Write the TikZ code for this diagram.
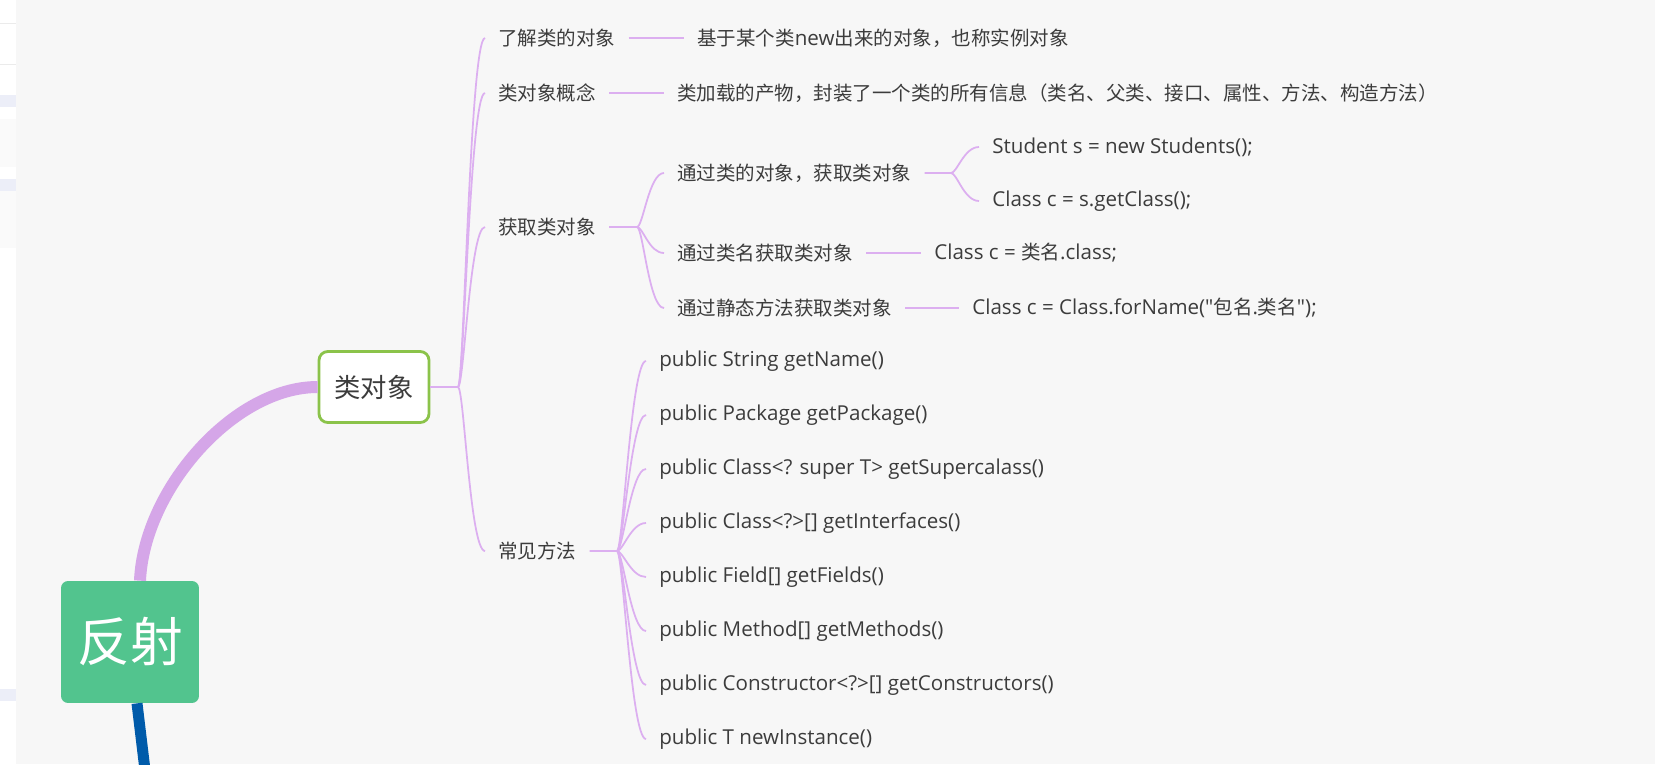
\documentclass[tikz,border=0pt]{standalone}
\usepackage{fontspec}
\setmainfont{Noto Sans CJK SC}
\newfontfamily\latfont{Open Sans}
\usepackage{tikz}
\usetikzlibrary{positioning, calc}
\definecolor{bggray}{RGB}{247,247,247}
\definecolor{txtgray}{RGB}{60,60,60}
\definecolor{twigpurple}{RGB}{220,175,240}
\definecolor{limbpurple}{RGB}{213,166,232}
\definecolor{rootgreen}{RGB}{82,196,142}
\definecolor{boxgreen}{RGB}{139,195,74}
\definecolor{trunkblue}{RGB}{0,91,170}
\definecolor{sideband}{RGB}{236,238,248}
\definecolor{sidepanel}{RGB}{250,250,250}
\tikzset{
  leaf/.style={anchor=west, inner xsep=0.26cm, inner ysep=2pt, yshift=-0.04cm,
    font=\fontsize{11.1}{13}\selectfont, text=txtgray},
  code/.style={leaf, font=\fontsize{11.7}{14}\selectfont\latfont},
  rootbox/.style={rectangle, fill=rootgreen, rounded corners=4pt,
    minimum width=2.76cm, minimum height=2.44cm, text=white,
    font=\fontsize{30}{36}\selectfont},
  topicbox/.style={rectangle, draw=boxgreen, fill=white, rounded corners=5pt,
    line width=1.6pt, minimum width=2.2cm, minimum height=1.42cm,
    text=txtgray, font=\fontsize{15}{18}\selectfont},
  twig/.style={draw=twigpurple, line width=1pt},
  limb/.style={draw=limbpurple, line width=0.24cm},
  trunk/.style={draw=trunkblue, line width=0.22cm}
}
\newcommand{\lt}[1]{{\fontsize{11.7}{14}\selectfont\latfont #1}}

\begin{document}
\begin{tikzpicture}[x=0.02cm, y=-0.02cm]
  % Canvas
  \fill[bggray] (0,0) rectangle (1655,764);
  \useasboundingbox (0,0) rectangle (1655,764);
  % Side panel
  \fill[white] (0,0) rectangle (16,764);
  \draw[black!8, line width=0.5pt] (0,23) -- (16,23);
  \draw[black!8, line width=0.5pt] (0,64) -- (16,64);
  \fill[sideband] (0,95) rectangle (16,107);
  \fill[sidepanel] (0,119) rectangle (16,167);
  \fill[sideband] (0,179) rectangle (16,191);
  \fill[sidepanel] (0,191) rectangle (16,248);
  \fill[sideband] (0,689) rectangle (16,701);

  % Root and topic
  \node[rootbox] (root) at (130,642) {反射};
  \node[topicbox] (obj) at (374,387) {类对象};
  \coordinate (trunkend) at (145,770);

  % First level
  \node[leaf] (know) at (485,36) {了解类的对象};
  \node[leaf] (concept) at (485,91) {类对象概念};
  \node[leaf] (get) at (485,225) {获取类对象};
  \node[leaf] (methods) at (485,549) {常见方法};

  % Second level
  \node[leaf] (knowdesc) at (684,36) {基于某个类\lt{new}出来的对象，也称实例对象};
  \node[leaf] (conceptdesc) at (664,91) {类加载的产物，封装了一个类的所有信息（类名、父类、接口、属性、方法、构造方法）};
  \node[leaf] (byobj) at (664,171) {通过类的对象，获取类对象};
  \node[leaf] (byname) at (664,251) {通过类名获取类对象};
  \node[leaf] (bystatic) at (664,306) {通过静态方法获取类对象};

  % Third level
  \node[code] (newstu) at (979,145) {Student s = new Students();};
  \node[code] (getcls) at (979,199) {Class c = s.getClass();};
  \node[leaf] (dotcls) at (921,251) {\lt{Class c = }类名\lt{.class;}};
  \node[leaf] (forname) at (959,306) {\lt{Class c = Class.forName("}包名\lt{.}类名\lt{");}};

  % Methods
  \node[code] (m1) at (646,359) {public String getName()};
  \node[code] (m2) at (646,413) {public Package getPackage()};
  \node[code] (m3) at (646,467) {public Class<? super T> getSupercalass()};
  \node[code] (m4) at (646,521) {public Class<?>[] getInterfaces()};
  \node[code] (m5) at (646,575) {public Field[] getFields()};
  \node[code] (m6) at (646,629) {public Method[] getMethods()};
  \node[code] (m7) at (646,683) {public Constructor<?>[] getConstructors()};
  \node[code] (m8) at (646,737) {public T newInstance()};

  % Forks
  \coordinate (objfork) at (458,387);
  \coordinate (getfork) at (637,227);
  \coordinate (byobjfork) at (951,173);
  \coordinate (methfork) at (617,551);

  % Thick branches
  \draw[limb] ($(root.north)+(10,0)$) .. controls +(4,-91) and +(-84,0) .. (obj.west);
  \draw[trunk] ($(root.south)+(7,0)$) -- (trunkend);

  % Topic to first level
  \draw[twig] (obj.east) -- (objfork);
  \draw[twig] (objfork) .. controls +(6,0) and +(-15,0) .. (know.west);
  \draw[twig] (objfork) .. controls +(6,0) and +(-15,0) .. (concept.west);
  \draw[twig] (objfork) .. controls +(6,0) and +(-15,0) .. (get.west);
  \draw[twig] (objfork) .. controls +(6,0) and +(-15,0) .. (methods.west);

  % Plain links
  \draw[twig] (know) -- (knowdesc);
  \draw[twig] (concept) -- (conceptdesc);
  \draw[twig] (byname) -- (dotcls);
  \draw[twig] (bystatic) -- (forname);

  % Getting the class object
  \draw[twig] (get.east) -- (getfork);
  \draw[twig] (getfork) .. controls +(6,0) and +(-15,0) .. (byobj.west);
  \draw[twig] (getfork) .. controls +(6,0) and +(-15,0) .. (byname.west);
  \draw[twig] (getfork) .. controls +(6,0) and +(-15,0) .. (bystatic.west);
  \draw[twig] (byobj.east) -- (byobjfork);
  \draw[twig] (byobjfork) .. controls +(6,0) and +(-15,0) .. (newstu.west);
  \draw[twig] (byobjfork) .. controls +(6,0) and +(-15,0) .. (getcls.west);

  % Common methods
  \draw[twig] (methods.east) -- (methfork);
  \draw[twig] (methfork) .. controls +(6,0) and +(-15,0) .. (m1.west);
  \draw[twig] (methfork) .. controls +(6,0) and +(-15,0) .. (m2.west);
  \draw[twig] (methfork) .. controls +(6,0) and +(-15,0) .. (m3.west);
  \draw[twig] (methfork) .. controls +(6,0) and +(-15,0) .. (m4.west);
  \draw[twig] (methfork) .. controls +(6,0) and +(-15,0) .. (m5.west);
  \draw[twig] (methfork) .. controls +(6,0) and +(-15,0) .. (m6.west);
  \draw[twig] (methfork) .. controls +(6,0) and +(-15,0) .. (m7.west);
  \draw[twig] (methfork) .. controls +(6,0) and +(-15,0) .. (m8.west);
\end{tikzpicture}
\end{document}
